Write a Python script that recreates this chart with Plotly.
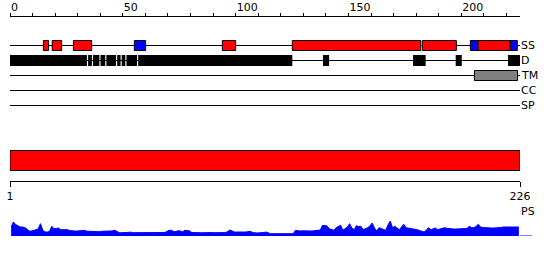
import plotly.graph_objects as go

# ---------------- data ----------------
LENGTH = 226
TOP_TICKS = list(range(0, 230, 10))
TOP_LABELS = [str(t) if t % 50 == 0 else "" for t in TOP_TICKS]

SS_HELIX = [(14.8, 17.1), (18.7, 22.9), (28.1, 36.2), (94.1, 100.0),
            (125.1, 182.0), (182.7, 197.8), (207.3, 221.7)]
SS_STRAND = [(55.1, 60.1), (204.0, 207.3), (221.7, 224.8)]
DISORDER = [(0, 34.1), (34.6, 36.3), (36.8, 39.6), (40.1, 42.2), (42.7, 47.0),
            (47.5, 49.0), (49.5, 51.1), (51.6, 56.3), (56.8, 125.1),
            (138.7, 141.4), (178.6, 184.2), (197.5, 200.2), (220.7, 226.0)]
TM = [(205.8, 224.9)]
TRACKS = ["SS", "D", "TM", "CC", "SP"]
DOMAIN_BAR = [(0, 226)]
BOTTOM_LABELS = ["1", "226"]

PS = [9, 14, 11.5, 10, 9, 9, 8.5, 7, 5, 5,
      6, 6.3, 7, 12.3, 6, 4, 4, 4.5, 9.7, 7.3,
      7.5, 8, 6.3, 6.5, 6.3, 6.3, 5.5, 5, 5, 5,
      4.8, 5.3, 5.7, 5, 4.7, 4.7, 4.5, 4.7, 4.7, 4.3,
      4.7, 4.7, 4.5, 4.7, 5, 5.3, 5.7, 4.5, 3.3, 3.3,
      3.5, 3.3, 3.3, 3.8, 3.3, 3.3, 3.5, 3.3, 3.3, 3.8,
      3.3, 3.3, 3.5, 3.3, 3.3, 3.6, 3.3, 3.3, 3.5, 4.5,
      5.7, 5.7, 4.5, 4.5, 5.3, 5, 4.3, 5.7, 5.7, 5.2,
      3.5, 3.3, 3.3, 3.4, 3.3, 3.3, 3.5, 3.3, 3.3, 3.4,
      3.3, 3.3, 3.5, 3.3, 3.3, 3.4, 4.5, 6, 5, 4,
      4, 4.2, 4, 4, 4, 4.3, 4.7, 3.5, 3, 3,
      3.2, 3, 3.5, 4, 3, 2.3, 2.3, 2.3, 2.3, 2.3,
      2.3, 2.3, 2.3, 2.3, 2.3, 2.3, 5.7, 5, 5, 5.2,
      5, 5, 5.3, 5, 5.2, 5.5, 5.5, 6, 10.7, 10.7,
      10, 7.3, 6.5, 5.7, 8.3, 9.5, 10.7, 5.7, 7, 9,
      12.3, 8, 6.3, 10.3, 9.5, 9.7, 6.3, 7, 8.3, 10,
      13, 8, 5, 8.3, 7.5, 6.5, 5.7, 11, 15, 8.3,
      9.7, 8, 6.3, 9, 11.7, 8.3, 8, 7.3, 7, 6.8,
      6.3, 5.5, 4.5, 4, 6, 8.3, 6.3, 7, 8, 6.3,
      7, 7.5, 8.3, 7.8, 7.3, 7, 7, 7, 7.2, 7,
      7, 7.2, 7.5, 9.7, 8.5, 8.3, 9.5, 11.7, 9, 8.5,
      8.2, 8, 8, 8, 8, 8, 8.3, 8.5, 9, 9,
      9, 9.2, 9, 9, 9.5, 9]
PS_POS = [i + 0.5 for i in range(LENGTH)]

# ---------------- layout constants ----------------
W, H = 550, 260
ROW_Y = {"SS": 45.5, "D": 60.5, "TM": 75.5, "CC": 90.5, "SP": 105.5}
FONT = dict(family="DejaVu Sans", size=11, color="black")

fig = go.Figure()

# PS profile
fig.add_trace(go.Scatter(x=PS_POS, y=PS, xaxis="x", yaxis="y2", mode="lines",
                         line=dict(color="#0000FF", width=1), fill="tozeroy",
                         fillcolor="#0000FF", hoverinfo="skip", showlegend=False))
# empty traces to create the extra axes' subplots
fig.add_trace(go.Scatter(x=[], y=[], xaxis="x2", yaxis="y", showlegend=False))
fig.add_trace(go.Scatter(x=[], y=[], xaxis="x3", yaxis="y", showlegend=False))

shapes = []
annotations = []

# track lines + labels
for name in TRACKS:
    y = ROW_Y[name]
    shapes.append(dict(type="line", xref="x", yref="y", x0=0, x1=LENGTH, y0=y, y1=y,
                       line=dict(color="black", width=1), layer="below"))
    annotations.append(dict(x=LENGTH, y=y, xref="x", yref="y", text=name,
                            showarrow=False, xanchor="left", yanchor="middle",
                            font=FONT, xshift=-1))


def boxes(segs, row, fill, border, half=5, lw=1):
    y = ROW_Y[row]
    for s, e in segs:
        shapes.append(dict(type="rect", xref="x", yref="y", x0=s, x1=e,
                           y0=y - half, y1=y + half, fillcolor=fill,
                           line=dict(color=border, width=lw)))


boxes(SS_HELIX, "SS", "#FF0000", "black")
boxes(SS_STRAND, "SS", "#0000FF", "black")
boxes(DISORDER, "D", "black", "black", half=5.5, lw=0)
boxes(TM, "TM", "#808080", "black")

# bottom red bar
for s, e in DOMAIN_BAR:
    shapes.append(dict(type="rect", xref="x", yref="y", x0=s, x1=e, y0=150.5, y1=170.5,
                       fillcolor="#FF0000", line=dict(color="black", width=1)))

# PS label and baseline extension
annotations.append(dict(x=LENGTH, y=211, xref="x", yref="y", text="PS", showarrow=False,
                        xanchor="left", yanchor="middle", font=FONT, xshift=-1))
shapes.append(dict(type="line", xref="paper", yref="y2", x0=1, x1=(532 - 10) / 510,
                   y0=0, y1=0, line=dict(color="#0000FF", width=1)))

fig.update_layout(
    width=W, height=H,
    margin=dict(l=10, r=30, t=0, b=0),
    paper_bgcolor="white", plot_bgcolor="rgba(0,0,0,0)",
    showlegend=False,
    shapes=shapes, annotations=annotations,
    xaxis=dict(range=[0, LENGTH], visible=False, domain=[0, 1]),
    yaxis=dict(range=[H, 0], visible=False, domain=[0, 1]),
    yaxis2=dict(range=[0, 15], domain=[(H - 236) / H, (H - 221) / H], visible=False,
                anchor="x"),
    xaxis2=dict(range=[0, LENGTH], overlaying="x", side="top", anchor="free",
                position=(H - 15.5) / H, showline=True, linecolor="black", linewidth=1,
                ticks="outside", ticklen=3, tickcolor="black", tickwidth=1,
                tickvals=TOP_TICKS, ticktext=TOP_LABELS, ticklabelposition="outside right",
                showgrid=False, zeroline=False, tickfont=FONT),
    xaxis3=dict(range=[0, LENGTH], overlaying="x", side="bottom", anchor="free",
                position=(H - 180.5) / H, showline=True, linecolor="black", linewidth=1,
                ticks="outside", ticklen=5, tickcolor="black", tickwidth=1,
                tickvals=[0, LENGTH], ticktext=BOTTOM_LABELS,
                showgrid=False, zeroline=False, tickfont=FONT),
)

fig.write_html("out.html")
